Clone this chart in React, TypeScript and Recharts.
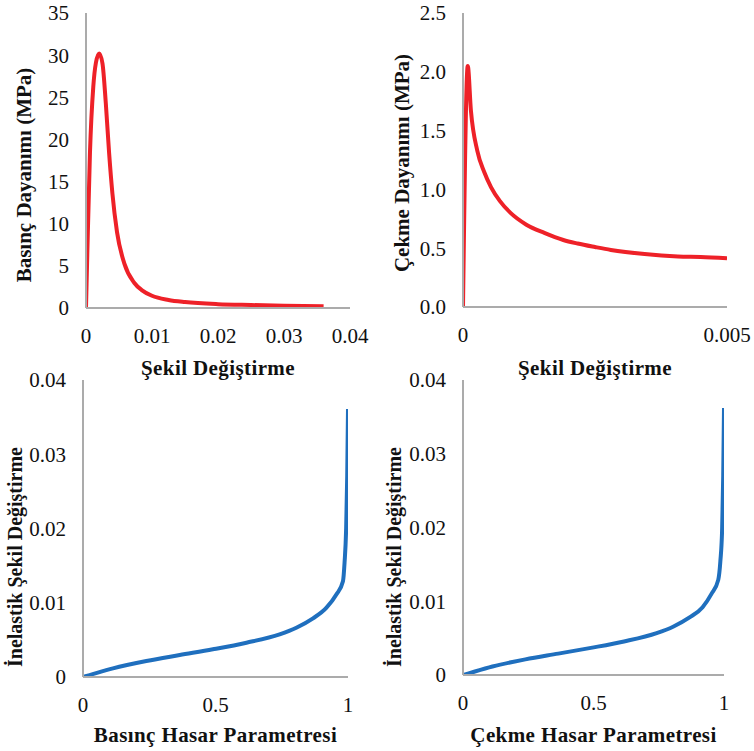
import React from 'react';
import { LineChart, Line, XAxis, YAxis } from 'recharts';

// Basınç: şekil değiştirme - gerilme (MPa)
const basincStrain = [0, 0.0002, 0.0006, 0.0011, 0.0015, 0.002, 0.0025, 0.003, 0.0035, 0.004, 0.0047, 0.0058, 0.0073, 0.0085, 0.01, 0.0125, 0.015, 0.02, 0.025, 0.03, 0.036];
const basincStress = [0, 6.5, 18.4, 26.2, 29.1, 30.2, 29, 24.3, 18.4, 13.6, 9, 5.3, 3.0, 2.1, 1.45, 0.95, 0.7, 0.45, 0.35, 0.27, 0.2];

// Çekme: şekil değiştirme - gerilme (MPa)
const cekmeStrain = [0, 0.00009, 0.00015, 0.00027, 0.0004, 0.00053, 0.0007, 0.0009, 0.0012, 0.00154, 0.0019, 0.00217, 0.0025, 0.0028, 0.00344, 0.00407, 0.0045, 0.005];
const cekmeStress = [0, 2.05, 1.67, 1.33, 1.15, 1.02, 0.9, 0.8, 0.7, 0.63, 0.57, 0.54, 0.51, 0.485, 0.45, 0.43, 0.425, 0.415];

// Hasar parametresi - inelastik şekil değiştirme
const basincDamage = [0, 0.025, 0.113, 0.239, 0.365, 0.49, 0.617, 0.742, 0.805, 0.868, 0.918, 0.956, 0.981, 0.987, 0.993, 0.997, 1.0];
const basincInel = [0, 0.00026, 0.00117, 0.00216, 0.00296, 0.00373, 0.00462, 0.00575, 0.00664, 0.0079, 0.0093, 0.0111, 0.0129, 0.0154, 0.02, 0.027, 0.0361];
const cekmeDamage = [0, 0.025, 0.113, 0.239, 0.365, 0.49, 0.617, 0.742, 0.805, 0.868, 0.918, 0.952, 0.978, 0.986, 0.993, 0.997, 1.0];
const cekmeInel = [0, 0.00026, 0.00115, 0.00212, 0.0029, 0.00368, 0.00455, 0.00568, 0.00655, 0.0078, 0.0092, 0.011, 0.0129, 0.0154, 0.02, 0.027, 0.0362];

const zip = (xs: number[], ys: number[]) => xs.map((x, i) => ({ x, y: ys[i] }));

const FONT = 'Liberation Serif, Times New Roman, serif';
const AXIS = '#ababab';
const RED = '#ee2128';
const BLUE = '#1f6fbe';

const tickText = { fontFamily: FONT, fontSize: 21, fontWeight: 400 as const };

const XTick = (fmt: (v: number) => string) => (props: any) => (
  <text x={props.x} y={props.y} dy="0.71em" textAnchor="middle" fill="#111" style={tickText}>
    {fmt(props.payload.value)}
  </text>
);

const YTick = (fmt: (v: number) => string) => (props: any) => (
  <text x={props.x} y={props.y} dy="0.355em" textAnchor="end" fill="#111" style={tickText}>
    {fmt(props.payload.value)}
  </text>
);

const YTitle = (text: string, x: number, cy: number, size: number) => () => (
  <text
    x={x}
    y={cy}
    transform={`rotate(-90, ${x}, ${cy})`}
    textAnchor="middle"
    fill="#111"
    style={{ fontFamily: FONT, fontWeight: 700, fontSize: size }}
  >
    {text}
  </text>
);

const XTitle = (text: string, y: number) => (props: any) => {
  const vb = props.viewBox;
  const cx = vb.x + vb.width / 2;
  return (
    <text
      x={cx}
      y={y}
      textAnchor="middle"
      fill="#111"
      style={{ fontFamily: FONT, fontWeight: 700, fontSize: 21, letterSpacing: 0.4 }}
    >
      {text}
    </text>
  );
};

type PanelProps = {
  left: number;
  top: number;
  width: number;
  height: number;
  data: { x: number; y: number }[];
  margin: { top: number; right: number; left: number; bottom: number };
  yWidth: number;
  xHeight: number;
  xDomain: [number, number];
  xTicks: number[];
  yDomain: [number, number];
  yTicks: number[];
  xFmt: (v: number) => string;
  yFmt: (v: number) => string;
  color: string;
  xTitle: string;
  yTitle: string;
  xTitleY: number;
  yTitleX: number;
  yTitleCY: number;
  yTitleSize: number;
};

const Panel = (p: PanelProps) => (
  <div style={{ position: 'absolute', left: p.left, top: p.top }}>
    <LineChart width={p.width} height={p.height} data={p.data} margin={p.margin}>
      <XAxis
        type="number"
        dataKey="x"
        domain={p.xDomain}
        ticks={p.xTicks}
        height={p.xHeight}
        axisLine={{ stroke: AXIS, strokeWidth: 2 }}
        tickLine={false}
        tickSize={0}
        tickMargin={20}
        tick={XTick(p.xFmt)}
        interval={0}
        allowDataOverflow
        label={{ content: XTitle(p.xTitle, p.xTitleY) }}
      />
      <YAxis
        type="number"
        dataKey="y"
        domain={p.yDomain}
        ticks={p.yTicks}
        width={p.yWidth}
        axisLine={{ stroke: AXIS, strokeWidth: 2 }}
        tickLine={false}
        tickSize={0}
        tickMargin={17}
        tick={YTick(p.yFmt)}
        interval={0}
        allowDataOverflow
        label={{ content: YTitle(p.yTitle, p.yTitleX, p.yTitleCY, p.yTitleSize) }}
      />
      <Line
        type="monotone"
        dataKey="y"
        stroke={p.color}
        strokeWidth={4}
        dot={false}
        isAnimationActive={false}
      />
    </LineChart>
  </div>
);

const fmtPlain = (v: number) => String(v);
const fmtOne = (v: number) => v.toFixed(1);

export default function App() {
  return (
    <div style={{ position: 'absolute', left: 0, top: 0, width: 754, height: 751, background: '#fff', overflow: 'hidden' }}>
      <Panel
        left={0}
        top={0}
        width={377}
        height={385}
        data={zip(basincStrain, basincStress)}
        margin={{ top: 13, right: 27, left: 0, bottom: 0 }}
        yWidth={86}
        xHeight={77}
        xDomain={[0, 0.04]}
        xTicks={[0, 0.01, 0.02, 0.03, 0.04]}
        yDomain={[0, 35]}
        yTicks={[0, 5, 10, 15, 20, 25, 30, 35]}
        xFmt={fmtPlain}
        yFmt={fmtPlain}
        color={RED}
        xTitle="Şekil Değiştirme"
        yTitle="Basınç Dayanımı  (MPa)"
        xTitleY={375}
        yTitleX={31}
        yTitleCY={175}
        yTitleSize={21}
      />
      <Panel
        left={377}
        top={0}
        width={377}
        height={385}
        data={zip(cekmeStrain, cekmeStress)}
        margin={{ top: 13, right: 27, left: 0, bottom: 0 }}
        yWidth={86}
        xHeight={78}
        xDomain={[0, 0.005]}
        xTicks={[0, 0.005]}
        yDomain={[0, 2.5]}
        yTicks={[0, 0.5, 1, 1.5, 2, 2.5]}
        xFmt={fmtPlain}
        yFmt={fmtOne}
        color={RED}
        xTitle="Şekil Değiştirme"
        yTitle="Çekme Dayanımı  (MPa)"
        xTitleY={375}
        yTitleX={32}
        yTitleCY={163}
        yTitleSize={21}
      />
      <Panel
        left={0}
        top={362}
        width={377}
        height={389}
        data={zip(basincDamage, basincInel)}
        margin={{ top: 18, right: 29, left: 0, bottom: 0 }}
        yWidth={83}
        xHeight={74}
        xDomain={[0, 1]}
        xTicks={[0, 0.5, 1]}
        yDomain={[0, 0.04]}
        yTicks={[0, 0.01, 0.02, 0.03, 0.04]}
        xFmt={fmtPlain}
        yFmt={fmtPlain}
        color={BLUE}
        xTitle="Basınç Hasar Parametresi"
        yTitle="İnelastik  Şekil Değiştirme"
        xTitleY={380}
        yTitleX={22}
        yTitleCY={195}
        yTitleSize={20}
      />
      <Panel
        left={377}
        top={362}
        width={377}
        height={389}
        data={zip(cekmeDamage, cekmeInel)}
        margin={{ top: 18, right: 30, left: 0, bottom: 0 }}
        yWidth={86}
        xHeight={76}
        xDomain={[0, 1]}
        xTicks={[0, 0.5, 1]}
        yDomain={[0, 0.04]}
        yTicks={[0, 0.01, 0.02, 0.03, 0.04]}
        xFmt={fmtPlain}
        yFmt={fmtPlain}
        color={BLUE}
        xTitle="Çekme Hasar Parametresi"
        yTitle="İnelastik  Şekil Değiştirme"
        xTitleY={380}
        yTitleX={24}
        yTitleCY={195}
        yTitleSize={20}
      />
    </div>
  );
}
